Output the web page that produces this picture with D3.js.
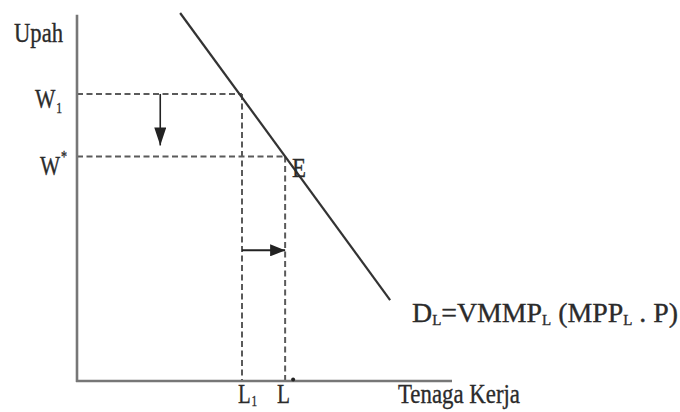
<!DOCTYPE html>
<html>
<head>
<meta charset="utf-8">
<script src="https://cdn.jsdelivr.net/npm/d3@7"></script>
<style>
  body { margin: 0; background: #fff; }
  text { font-family: "Liberation Serif", "DejaVu Serif", serif; fill: #2b2b2b; stroke: #2b2b2b; stroke-width: 0.35px; }
</style>
</head>
<body>
<div id="chart"></div>
<script>
// demand curve D_L (labour units, wage units)
const demandX = [27.5, 83.5];
const demandY = [100, 22];

// wage levels on the vertical axis
const wageLevels = [78, 61];
const wageNames = ["W1", "W*"];

// labour levels on the horizontal axis
const laborLevels = [44, 55.5];
const laborNames = ["L1", "L"];

// shift arrows: wage falls from W1, labour rises L1 -> L
const downArrow = { x: 22.2, from: 78, to: 64 };
const rightArrow = { y: 35.5, from: 44, to: 55.5 };

const width = 680, height = 412;

const svg = d3.select("#chart").append("svg")
  .attr("width", width)
  .attr("height", height);

const x = d3.scaleLinear().domain([0, 100]).range([77, 452]);
const y = d3.scaleLinear().domain([0, 100]).range([381, 13]);

const defs = svg.append("defs");
defs.append("marker")
  .attr("id", "headDown")
  .attr("viewBox", "0 0 18 12")
  .attr("refX", 18).attr("refY", 6)
  .attr("markerWidth", 18).attr("markerHeight", 12)
  .attr("markerUnits", "userSpaceOnUse")
  .attr("orient", "auto")
  .append("path")
  .attr("d", "M0,0 L18,6 L0,12 Z")
  .attr("fill", "#222");

defs.append("marker")
  .attr("id", "headRight")
  .attr("viewBox", "0 0 15 12")
  .attr("refX", 15).attr("refY", 6)
  .attr("markerWidth", 15).attr("markerHeight", 12)
  .attr("markerUnits", "userSpaceOnUse")
  .attr("orient", "auto")
  .append("path")
  .attr("d", "M0,0 L15,6 L0,12 Z")
  .attr("fill", "#222");

// dashed guides
const guides = svg.append("g")
  .attr("stroke", "#5a5a5a")
  .attr("stroke-width", 2)
  .attr("stroke-dasharray", "6,3.5");

wageLevels.forEach((w, i) => {
  guides.append("line")
    .attr("x1", x(0)).attr("x2", x(laborLevels[i]))
    .attr("y1", y(w)).attr("y2", y(w));
  guides.append("line")
    .attr("x1", x(laborLevels[i])).attr("x2", x(laborLevels[i]))
    .attr("y1", y(w)).attr("y2", y(0));
});

// axes
svg.append("line")
  .attr("x1", x(0)).attr("x2", x(0))
  .attr("y1", y(0) + 1).attr("y2", y(99.5))
  .attr("stroke", "#777").attr("stroke-width", 2.6);
svg.append("line")
  .attr("x1", x(0) - 1).attr("x2", x(100))
  .attr("y1", y(0)).attr("y2", y(0))
  .attr("stroke", "#777").attr("stroke-width", 2.6);

// demand line
svg.append("path")
  .datum(d3.zip(demandX, demandY))
  .attr("d", d3.line().x(d => x(d[0])).y(d => y(d[1])))
  .attr("fill", "none")
  .attr("stroke", "#333")
  .attr("stroke-width", 2.2);

// arrows
svg.append("line")
  .attr("x1", x(downArrow.x)).attr("x2", x(downArrow.x))
  .attr("y1", y(downArrow.from)).attr("y2", y(downArrow.to))
  .attr("stroke", "#222").attr("stroke-width", 1.6)
  .attr("marker-end", "url(#headDown)");
svg.append("line")
  .attr("x1", x(rightArrow.from)).attr("x2", x(rightArrow.to))
  .attr("y1", y(rightArrow.y)).attr("y2", y(rightArrow.y))
  .attr("stroke", "#222").attr("stroke-width", 2)
  .attr("marker-end", "url(#headRight)");

// small dot next to L
svg.append("circle")
  .attr("cx", x(laborLevels[1]) + 8).attr("cy", y(0) - 1.5)
  .attr("r", 2).attr("fill", "#222");

// labels (serif, condensed like the source)
function label(px, py, parts, len) {
  const t = svg.append("text")
    .attr("x", px).attr("y", py)
    .style("font-size", "28px");
  parts.forEach(p => {
    t.append("tspan")
      .attr("dy", p.dy || 0)
      .attr("dx", p.dx || 0)
      .style("font-size", p.size ? p.size + "px" : null)
      .text(p.s);
  });
  if (len) t.attr("textLength", len).attr("lengthAdjust", "spacingAndGlyphs");
  return t;
}

label(14, 42, [{ s: "Upah" }], 49);
label(35, 108, [{ s: "W" }, { s: "1", size: 15, dy: 5, dx: 1 }], 27);
label(40, 175, [{ s: "W" }, { s: "*", size: 16, dy: -13, dx: 1 }], 27);
label(292, 177, [{ s: "E" }], 14);
label(238, 403, [{ s: "L" }, { s: "1", size: 15, dy: 3, dx: 1 }], 19);
label(277, 403, [{ s: "L" }], 13);
label(398, 403, [{ s: "Tenaga Kerja" }], 122);
label(412, 322, [
  { s: "D" }, { s: "L", size: 15, dy: 3 },
  { s: "=VMMP", dy: -3 }, { s: "L", size: 15, dy: 3 },
  { s: " (MPP", dy: -3 }, { s: "L", size: 15, dy: 3 },
  { s: " . P)", dy: -3 }
], 266);
</script>
</body>
</html>
